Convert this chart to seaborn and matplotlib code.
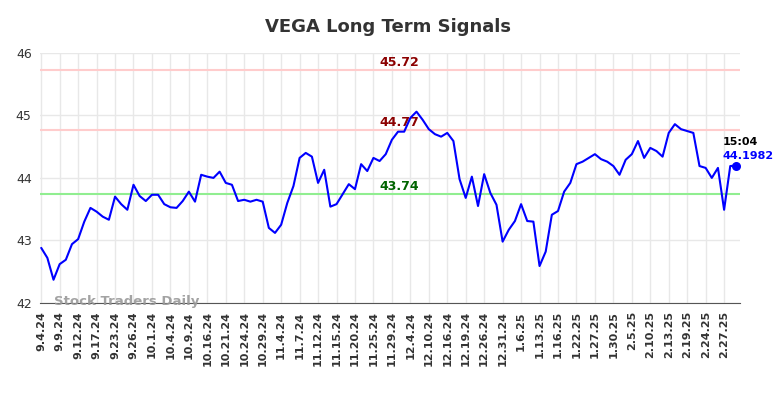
import matplotlib
matplotlib.use("Agg")
import matplotlib.pyplot as plt
import seaborn as sns
import pandas as pd

title = "VEGA Long Term Signals"
tick_labels = ["9.4.24", "9.9.24", "9.12.24", "9.17.24", "9.23.24", "9.26.24", "10.1.24",
               "10.4.24", "10.9.24", "10.16.24", "10.21.24", "10.24.24", "10.29.24",
               "11.4.24", "11.7.24", "11.12.24", "11.15.24", "11.20.24", "11.25.24",
               "11.29.24", "12.4.24", "12.10.24", "12.16.24", "12.19.24", "12.26.24",
               "12.31.24", "1.6.25", "1.13.25", "1.16.25", "1.22.25", "1.27.25", "1.30.25",
               "2.5.25", "2.10.25", "2.13.25", "2.19.25", "2.24.25", "2.27.25"]
prices = [42.88, 42.72, 42.37, 42.62, 42.69, 42.94, 43.02, 43.30, 43.52, 43.46,
          43.38, 43.33, 43.70, 43.58, 43.49, 43.89, 43.71, 43.63, 43.73, 43.73,
          43.58, 43.53, 43.52, 43.63, 43.78, 43.62, 44.05, 44.02, 44.00, 44.10,
          43.92, 43.89, 43.63, 43.65, 43.62, 43.65, 43.62, 43.20, 43.12, 43.25,
          43.60, 43.87, 44.32, 44.40, 44.34, 43.92, 44.13, 43.54, 43.58, 43.74,
          43.90, 43.82, 44.22, 44.11, 44.32, 44.27, 44.38, 44.61, 44.74, 44.74,
          44.96, 45.06, 44.93, 44.78, 44.70, 44.66, 44.72, 44.59, 43.98, 43.68,
          44.02, 43.55, 44.06, 43.76, 43.57, 42.98, 43.17, 43.31, 43.58, 43.31,
          43.30, 42.59, 42.82, 43.41, 43.47, 43.78, 43.92, 44.22, 44.26, 44.32,
          44.38, 44.30, 44.26, 44.19, 44.05, 44.29, 44.38, 44.59, 44.32, 44.48,
          44.43, 44.34, 44.72, 44.86, 44.78, 44.75, 44.72, 44.19, 44.16, 44.00,
          44.16, 43.49, 44.19, 44.1982]
tick_step = 3
upper_levels = [45.72, 44.77]
lower_level = 43.74
last_time = "15:04"
y_ticks = [42, 43, 44, 45, 46]

df = pd.DataFrame({"idx": range(len(prices)), "price": prices})

sns.set_style("white")
fig = plt.figure(figsize=(7.84, 3.98), dpi=100)
ax = fig.add_axes([0.051, 0.239, 0.893, 0.628])

ax.set_xticks(range(0, len(tick_labels) * tick_step, tick_step))
ax.set_xticklabels(tick_labels, rotation=90, fontsize=8, fontweight="bold", color="#333333")
ax.set_yticks(y_ticks)
ax.set_yticklabels([str(v) for v in y_ticks], fontsize=9, color="#333333")
ax.grid(True, color="#e8e8e8", linewidth=1)
ax.set_axisbelow(True)

for lvl in upper_levels:
    ax.axhline(lvl, color="#ffcccc", linewidth=1.5, zorder=1)
    ax.text(0.513, lvl + 0.02, f"{lvl:.2f}", transform=ax.get_yaxis_transform(),
            ha="center", va="bottom", color="#8b0000", fontsize=9, fontweight="bold")
ax.axhline(lower_level, color="#90ee90", linewidth=1.5, zorder=1)
ax.text(0.513, lower_level + 0.02, f"{lower_level:.2f}", transform=ax.get_yaxis_transform(),
        ha="center", va="bottom", color="#006400", fontsize=9, fontweight="bold")

sns.lineplot(data=df, x="idx", y="price", color="#0000ff", linewidth=1.5, ax=ax, zorder=3)
last_i = len(prices) - 1
ax.scatter([last_i], [prices[-1]], color="#0000ff", s=30, zorder=4)
ax.text(last_i - 2.3, prices[-1] + 0.38, last_time, ha="left", va="center",
        fontsize=8, fontweight="bold", color="#000000", clip_on=False)
ax.text(last_i - 2.3, prices[-1] + 0.155, f"{prices[-1]:.4f}", ha="left", va="center",
        fontsize=8, fontweight="bold", color="#0000ff", clip_on=False)

ax.text(0.02, 0.005, "Stock Traders Daily", transform=ax.transAxes, ha="left", va="center",
        fontsize=9.5, fontweight="bold", color="#999999", alpha=0.9)

ax.set_xlim(-0.2, 113.6)
ax.set_ylim(42, 46)
ax.set_xlabel("")
ax.set_ylabel("")
for s in ["top", "right", "left"]:
    ax.spines[s].set_visible(False)
ax.spines["bottom"].set_color("#555555")
ax.tick_params(axis="both", length=0, pad=6)

fig.suptitle(title, x=0.495, y=0.955, fontsize=13, fontweight="bold", color="#333333")
fig.savefig("out.png", dpi=100)
